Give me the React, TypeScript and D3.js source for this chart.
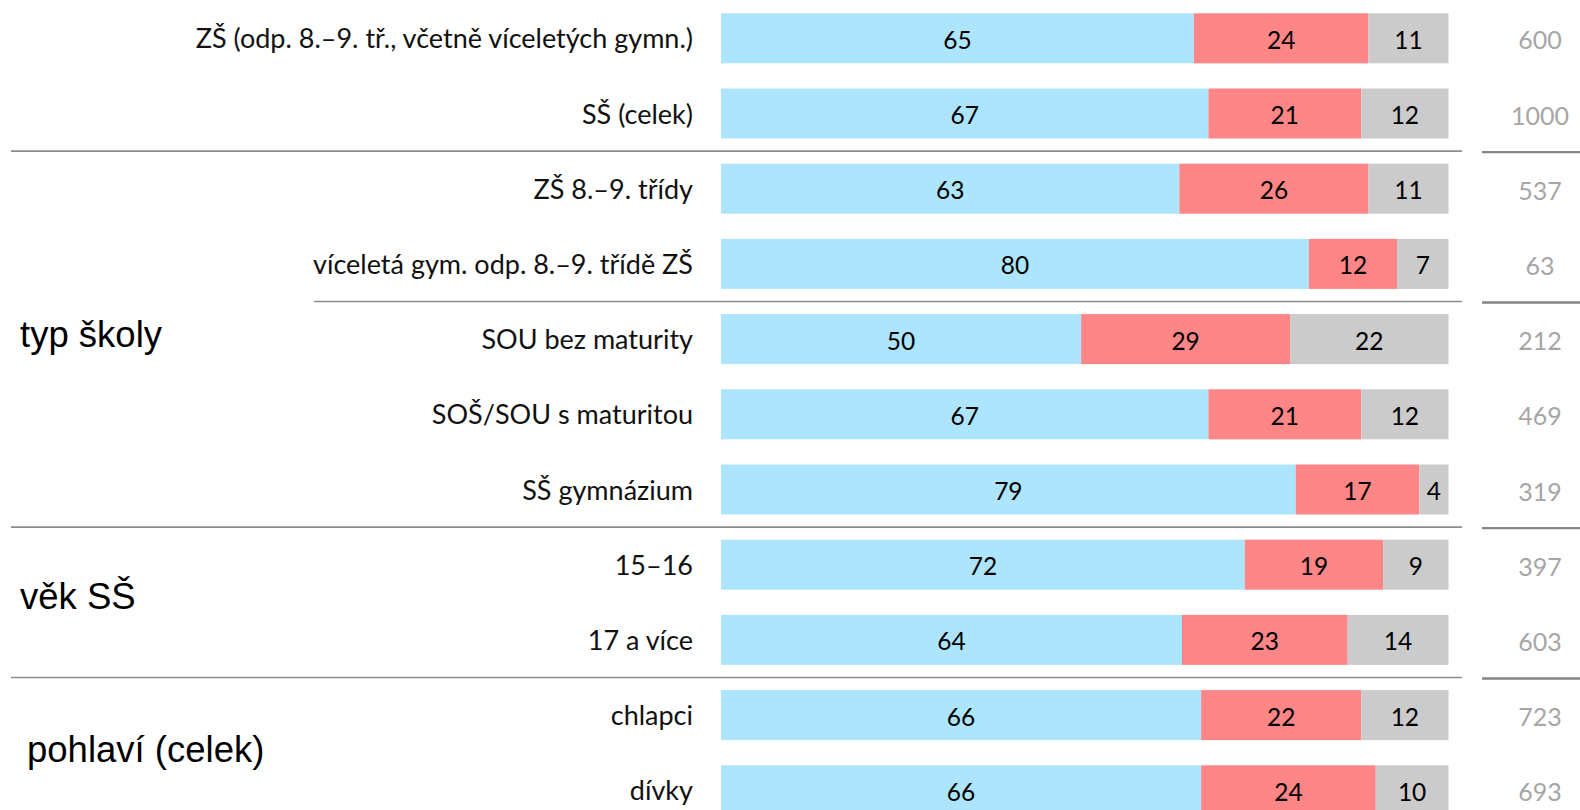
import React from 'react';
import * as d3 from 'd3';

// kategorie a hodnoty (v %)
const categories = [
  'ZŠ (odp. 8.–9. tř., včetně víceletých gymn.)',
  'SŠ (celek)',
  'ZŠ 8.–9. třídy',
  'víceletá gym. odp. 8.–9. třídě ZŠ',
  'SOU bez maturity',
  'SOŠ/SOU s maturitou',
  'SŠ gymnázium',
  '15–16',
  '17 a více',
  'chlapci',
  'dívky',
];
const blueValues = [65, 67, 63, 80, 50, 67, 79, 72, 64, 66, 66];
const redValues = [24, 21, 26, 12, 29, 21, 17, 19, 23, 22, 24];
const greyValues = [11, 12, 11, 7, 22, 12, 4, 9, 14, 12, 10];
const totals = [600, 1000, 537, 63, 212, 469, 319, 397, 603, 723, 693];

const groupNames = ['typ školy', 'věk SŠ', 'pohlaví (celek)'];
const groupFirst = [2, 7, 9];
const groupLast = [6, 8, 10];

// oddělovací čáry za řádky
const separatorsAfter = [1, 3, 6, 8];

const keys = ['blue', 'red', 'grey'];
const colors: Record<string, string> = { blue: '#ADE5FE', red: '#FF8686', grey: '#CBCBCB' };

const W = 1580;
const H = 810;

export default function App() {
  const rows = categories.map((c, i) => ({
    name: c,
    blue: blueValues[i],
    red: redValues[i],
    grey: greyValues[i],
  }));

  const stack = d3.stack<any>().keys(keys).offset(d3.stackOffsetExpand);
  const series = stack(rows);

  const x = d3.scaleLinear().domain([0, 1]).range([721, 1448.5]);
  const y = d3
    .scaleBand<number>()
    .domain(d3.range(categories.length))
    .range([0.7, 0.7 + 75.2 * categories.length])
    .paddingInner(0.335)
    .paddingOuter(0.1675);
  const bw = y.bandwidth();
  const mid = (i: number) => (y(i) as number) + bw / 2;

  const groupDx = [20, 20, 27];
  const groupDy = [8, 7, 9];

  return (
    <div style={{ position: 'fixed', left: 0, top: 0, width: W, height: H, background: '#fff' }}>
      <svg width={W} height={H} style={{ display: 'block' }}>
        {/* pruhy */}
        {series.map((s) => (
          <g key={s.key} fill={colors[s.key]}>
            {s.map((d, i) => (
              <rect
                key={i}
                x={x(d[0])}
                y={y(i)}
                width={x(d[1]) - x(d[0])}
                height={bw}
              />
            ))}
          </g>
        ))}

        {/* hodnoty v pruzích */}
        {series.map((s) => (
          <g key={'t' + s.key} fontFamily="Lato" fontSize={24.5} fill="#000" textAnchor="middle">
            {s.map((d, i) => (
              <text key={i} x={(x(d[0]) + x(d[1])) / 2} y={mid(i) + 10.5}>
                {(rows[i] as any)[s.key]}
              </text>
            ))}
          </g>
        ))}

        {/* popisky kategorií */}
        <g fontFamily="Lato" fontSize={27} fill="#111" textAnchor="end">
          {categories.map((c, i) => (
            <text key={c} x={693} y={mid(i) + 10}>
              {c}
            </text>
          ))}
        </g>

        {/* počty respondentů */}
        <g fontFamily="Lato" fontSize={25} fill="#A6A6A6" textAnchor="middle">
          {totals.map((t, i) => (
            <text key={i} x={1540} y={mid(i) + 11}>
              {t}
            </text>
          ))}
        </g>

        {/* oddělovače */}
        {separatorsAfter.map((r) => {
          const sy = (y(r + 1) as number) - (y.step() - bw) / 2;
          const x0 = r === 3 ? 314 : 11;
          return (
            <g key={r}>
              <line x1={x0} x2={1462} y1={sy} y2={sy} stroke="#8C8C8C" strokeWidth={1.6} />
              <line x1={1482} x2={W} y1={sy + 1} y2={sy + 1} stroke="#858585" strokeWidth={2.4} />
            </g>
          );
        })}

        {/* názvy skupin */}
        <g fontFamily="Liberation Sans, Arial, sans-serif" fontSize={36.5} fill="#000">
          {groupNames.map((g, k) => {
            const cy = ((y(groupFirst[k]) as number) + (y(groupLast[k]) as number) + bw) / 2;
            return (
              <text key={g} x={groupDx[k]} y={cy + groupDy[k]}>
                {g}
              </text>
            );
          })}
        </g>
      </svg>
    </div>
  );
}
